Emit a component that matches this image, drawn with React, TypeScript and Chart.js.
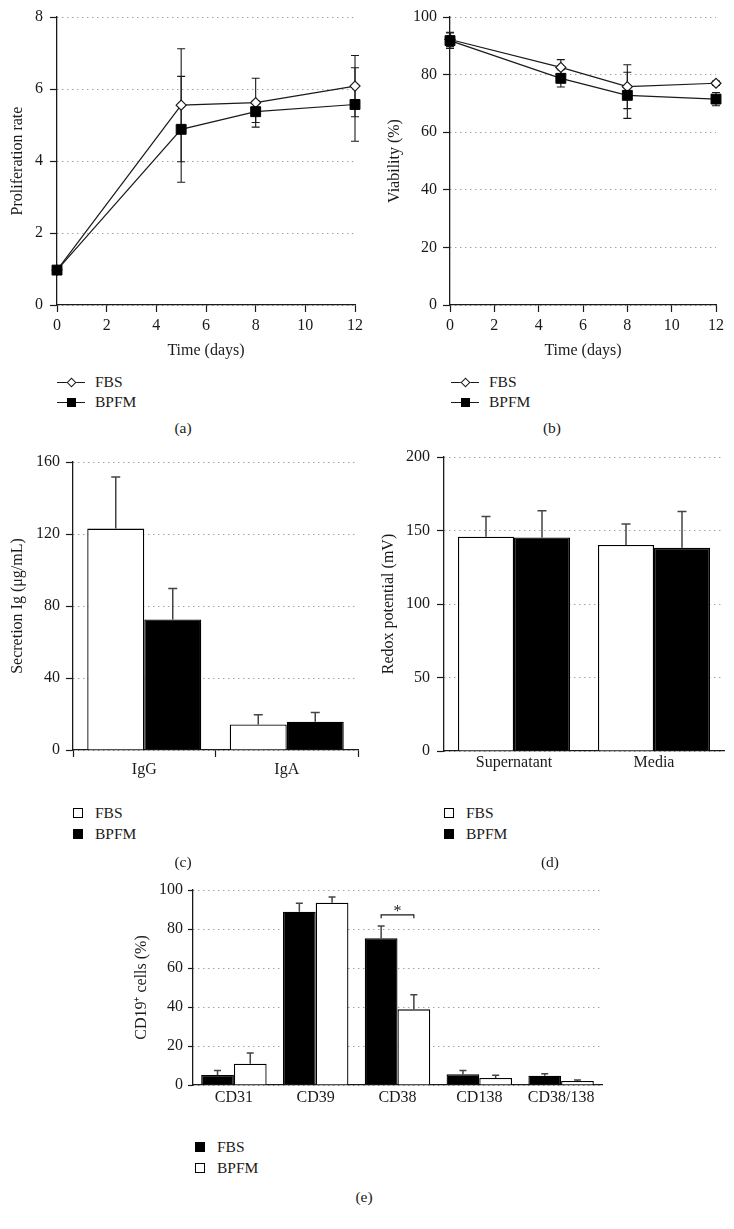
import React, { useEffect, useRef } from "react";
import { Chart, registerables } from "chart.js";
Chart.register(...registerables);

const FONT = "'Liberation Serif', 'Times New Roman', Times, serif";
const INK = "#1a1a1a";
const GRID = "#7a7a7a";

// ---------- (a) Proliferation rate ----------
const days = [0, 5, 8, 12];
const prolifFBS = [0.97, 5.55, 5.62, 6.08];
const prolifFBSErr = [0.05, 1.57, 0.68, 0.85];
const prolifBPFM = [0.97, 4.88, 5.37, 5.57];
const prolifBPFMErr = [0.05, 1.47, 0.3, 1.02];

// ---------- (b) Viability ----------
const viabFBS = [92.2, 82.5, 75.8, 77];
const viabFBSErr = [2.5, 2.7, 7.6, 0.8];
const viabBPFM = [91.8, 78.7, 72.8, 71.5];
const viabBPFMErr = [2.7, 3.0, 8.0, 2.3];

// ---------- (c) Secretion Ig ----------
const igCategories = ["IgG", "IgA"];
const igFBS = [123, 14.2];
const igFBSErr = [28.7, 5.4];
const igBPFM = [72.5, 15.7];
const igBPFMErr = [17.2, 5.2];

// ---------- (d) Redox potential ----------
const redoxCategories = ["Supernatant", "Media"];
const redoxFBS = [145.8, 140.2];
const redoxFBSErr = [13.7, 14.3];
const redoxBPFM = [145.2, 138.2];
const redoxBPFMErr = [18.3, 24.7];

// ---------- (e) CD19+ cells ----------
const cdCategories = ["CD31", "CD39", "CD38", "CD138", "CD38/138"];
const cdFBS = [5.1, 88.9, 75.2, 5.5, 4.8];
const cdFBSErr = [2.3, 4.3, 6.3, 1.9, 1.0];
const cdBPFM = [10.9, 93.5, 38.8, 3.6, 2.05];
const cdBPFMErr = [5.5, 2.9, 7.5, 1.4, 0.5];
const sigCategoryIndex = 2;
const sigLevel = 87.2;
const sigDrop = 1.7;
const sigLabel = "*";

const axisFont = { family: FONT, size: 16 };

const errorBarPlugin = {
  id: "errorBars",
  beforeDatasetsDraw(chart: any) {
    const ctx = chart.ctx;
    chart.data.datasets.forEach((ds: any, di: number) => {
      const errs: number[] | undefined = ds.errors;
      if (!errs) return;
      const meta = chart.getDatasetMeta(di);
      const yScale = chart.scales[meta.yAxisID];
      ctx.save();
      ctx.setLineDash([]);
      ctx.strokeStyle = ds.errorColor || INK;
      ctx.lineWidth = ds.errorWidth || 1.2;
      const cw = ds.errorCap ?? 4;
      meta.data.forEach((el: any, i: number) => {
        const v = meta.controller.getParsed(i).y;
        const e = errs[i];
        const x = el.x;
        const yTop = yScale.getPixelForValue(v + e);
        const yBot = ds.errorBoth ? yScale.getPixelForValue(v - e) : yScale.getPixelForValue(v);
        ctx.beginPath();
        ctx.moveTo(x, yTop);
        ctx.lineTo(x, yBot);
        ctx.moveTo(x - cw, yTop);
        ctx.lineTo(x + cw, yTop);
        if (ds.errorBoth) {
          ctx.moveTo(x - cw, yBot);
          ctx.lineTo(x + cw, yBot);
        }
        ctx.stroke();
      });
      ctx.restore();
    });
  },
};

const sigPlugin = {
  id: "sigBracket",
  afterDatasetsDraw(chart: any, _args: any, opts: any) {
    if (!opts || opts.index == null) return;
    const ctx = chart.ctx;
    const a = chart.getDatasetMeta(0).data[opts.index].x;
    const b = chart.getDatasetMeta(1).data[opts.index].x;
    const y = chart.scales.y.getPixelForValue(opts.level);
    const y2 = chart.scales.y.getPixelForValue(opts.level - opts.drop);
    ctx.save();
    ctx.strokeStyle = INK;
    ctx.lineWidth = 1.2;
    ctx.beginPath();
    ctx.moveTo(a, y2);
    ctx.lineTo(a, y);
    ctx.lineTo(b, y);
    ctx.lineTo(b, y2);
    ctx.stroke();
    ctx.fillStyle = INK;
    ctx.font = `16px ${FONT}`;
    ctx.textAlign = "center";
    ctx.textBaseline = "alphabetic";
    ctx.fillText(opts.label, (a + b) / 2, y + 1);
    ctx.restore();
  },
};

function yAxis(min: number, max: number, step: number, title: string, width: number, titlePad: number, tickLen = 7, tickPad = 7) {
  return {
    type: "linear",
    min,
    max,
    ticks: { stepSize: step, font: axisFont, color: INK, padding: tickPad },
    grid: { color: GRID, lineWidth: 1, tickLength: tickLen, tickColor: INK, tickWidth: 1.2, tickBorderDash: [] },
    border: { display: true, color: INK, width: 1.3, dash: [1, 4] },
    title: { display: true, text: title, font: axisFont, color: INK, padding: { top: titlePad, bottom: 0 } },
    afterFit: (s: any) => {
      s.width = width;
    },
  };
}

function lineX(height: number) {
  return {
    type: "linear",
    min: 0,
    max: 12,
    ticks: { stepSize: 2, font: axisFont, color: INK, padding: 4 },
    grid: { drawOnChartArea: false, color: INK, tickLength: 7, tickColor: INK, tickWidth: 1.2 },
    border: { display: true, color: INK, width: 1.3 },
    title: { display: true, text: "Time (days)", font: axisFont, color: INK, padding: { top: 0, bottom: 12 } },
    afterFit: (s: any) => {
      s.height = height;
    },
  };
}

function barX(height: number, ticks: boolean, pad: number) {
  return {
    type: "category",
    ticks: { font: axisFont, color: INK, padding: pad },
    grid: ticks
      ? { drawOnChartArea: false, color: INK, tickLength: 7, tickColor: INK, tickWidth: 1.2 }
      : { display: false, drawTicks: false, tickLength: 0 },
    border: { display: true, color: INK, width: 1.3 },
    afterFit: (s: any) => {
      s.height = height;
    },
  };
}

function lineDatasets(fbs: number[], fbsErr: number[], bpfm: number[], bpfmErr: number[]) {
  return [
    {
      label: "BPFM",
      data: days.map((d, i) => ({ x: d, y: bpfm[i] })),
      borderColor: INK,
      borderWidth: 1.2,
      backgroundColor: "#000",
      pointStyle: "rect",
      pointRadius: 7,
      pointBorderColor: "#000",
      pointBackgroundColor: "#000",
      pointBorderWidth: 1,
      tension: 0,
      clip: false,
      errors: bpfmErr,
      errorBoth: true,
      errorCap: 4,
      errorWidth: 1.1,
    },
    {
      label: "FBS",
      data: days.map((d, i) => ({ x: d, y: fbs[i] })),
      borderColor: INK,
      borderWidth: 1.2,
      backgroundColor: "#fff",
      pointStyle: "rectRot",
      pointRadius: 5,
      pointBorderColor: INK,
      pointBackgroundColor: "#fff",
      pointBorderWidth: 1.2,
      tension: 0,
      clip: false,
      errors: fbsErr,
      errorBoth: true,
      errorCap: 4,
      errorWidth: 1.1,
    },
  ];
}

function barDataset(label: string, data: number[], errs: number[], fill: string, cap: number) {
  return {
    label,
    data,
    backgroundColor: fill,
    borderColor: "#000",
    borderWidth: 1.3,
    categoryPercentage: 0.8,
    barPercentage: 1.0,
    errors: errs,
    errorBoth: false,
    errorCap: cap,
    errorColor: "#444",
    errorWidth: 1.5,
  };
}

const basePlugins = { legend: { display: false }, tooltip: { enabled: false } };

const configA = () => ({
  type: "line",
  data: { datasets: lineDatasets(prolifFBS, prolifFBSErr, prolifBPFM, prolifBPFMErr) },
  options: {
    responsive: false,
    animation: false,
    layout: { padding: { top: 17, right: 9, left: 0, bottom: 0 } },
    plugins: basePlugins,
    scales: { x: lineX(67), y: yAxis(0, 8, 2, "Proliferation rate", 57, 8, 7, 7) },
  },
  plugins: [errorBarPlugin],
});

const configB = () => ({
  type: "line",
  data: { datasets: lineDatasets(viabFBS, viabFBSErr, viabBPFM, viabBPFMErr) },
  options: {
    responsive: false,
    animation: false,
    layout: { padding: { top: 17, right: 18, left: 0, bottom: 0 } },
    plugins: basePlugins,
    scales: { x: lineX(67), y: yAxis(0, 100, 20, "Viability (%)", 83, 18, 7, 6) },
  },
  plugins: [errorBarPlugin],
});

const configC = () => ({
  type: "bar",
  data: {
    labels: igCategories,
    datasets: [barDataset("FBS", igFBS, igFBSErr, "#fff", 4.5), barDataset("BPFM", igBPFM, igBPFMErr, "#000", 4.5)],
  },
  options: {
    responsive: false,
    animation: false,
    layout: { padding: { top: 22, right: 9, left: 0, bottom: 0 } },
    plugins: basePlugins,
    scales: { x: barX(42, true, 3), y: yAxis(0, 160, 40, "Secretion Ig (μg/mL)", 73, 8, 7, 6) },
  },
  plugins: [errorBarPlugin],
});

const configD = () => ({
  type: "bar",
  data: {
    labels: redoxCategories,
    datasets: [
      barDataset("FBS", redoxFBS, redoxFBSErr, "#fff", 4.5),
      barDataset("BPFM", redoxBPFM, redoxBPFMErr, "#000", 4.5),
    ],
  },
  options: {
    responsive: false,
    animation: false,
    layout: { padding: { top: 17, right: 10, left: 0, bottom: 0 } },
    plugins: basePlugins,
    scales: { x: barX(41, false, 2), y: yAxis(0, 200, 50, "Redox potential (mV)", 77, 12, 7, 7) },
  },
  plugins: [errorBarPlugin],
});

const configE = () => ({
  type: "bar",
  data: {
    labels: cdCategories,
    datasets: [barDataset("FBS", cdFBS, cdFBSErr, "#000", 3.5), barDataset("BPFM", cdBPFM, cdBPFMErr, "#fff", 3.5)],
  },
  options: {
    responsive: false,
    animation: false,
    layout: { padding: { top: 30, right: 18, left: 0, bottom: 0 } },
    plugins: {
      ...basePlugins,
      sigBracket: { index: sigCategoryIndex, level: sigLevel, drop: sigDrop, label: sigLabel },
    },
    scales: { x: barX(25, false, 3), y: yAxis(0, 100, 20, "CD19\u207A cells (%)", 73, 12, 5, 5) },
  },
  plugins: [errorBarPlugin, sigPlugin],
});

function ChartBox({ left, top, width, height, config }: any) {
  const ref = useRef<HTMLCanvasElement>(null);
  useEffect(() => {
    const chart = new Chart(ref.current as HTMLCanvasElement, config() as any);
    return () => chart.destroy();
  }, []);
  return (
    <canvas
      ref={ref}
      width={width}
      height={height}
      style={{ position: "absolute", left, top, width, height }}
    />
  );
}

const textStyle: React.CSSProperties = {
  position: "absolute",
  fontFamily: FONT,
  fontSize: 15.5,
  lineHeight: "18px",
  color: INK,
  whiteSpace: "nowrap",
};

function LineLegendItem({ x, y, label, marker }: any) {
  return (
    <>
      <div style={{ position: "absolute", left: x, top: y - 0.5, width: 28, height: 1.2, background: INK }} />
      {marker === "diamond" ? (
        <div
          style={{
            position: "absolute",
            left: x + 14 - 3.5,
            top: y - 3.5,
            width: 5,
            height: 5,
            background: "#fff",
            border: `1.2px solid ${INK}`,
            transform: "rotate(45deg)",
          }}
        />
      ) : (
        <div style={{ position: "absolute", left: x + 14 - 4.5, top: y - 4.5, width: 9, height: 9, background: "#000" }} />
      )}
      <div style={{ ...textStyle, left: x + 38, top: y - 9 }}>{label}</div>
    </>
  );
}

function BoxLegendItem({ x, y, label, fill }: any) {
  return (
    <>
      <div
        style={{
          position: "absolute",
          left: x,
          top: y - 5,
          width: 8,
          height: 8,
          background: fill,
          border: `1.2px solid #000`,
        }}
      />
      <div style={{ ...textStyle, left: x + 22, top: y - 9 }}>{label}</div>
    </>
  );
}

function PanelLabel({ x, y, text }: any) {
  return <div style={{ ...textStyle, left: x - 20, width: 40, textAlign: "center", top: y - 9 }}>{text}</div>;
}

export default function App() {
  return (
    <div style={{ position: "absolute", left: 0, top: 0, width: 734, height: 1229, background: "#fff" }}>
      <ChartBox left={0} top={0} width={367} height={372} config={configA} />
      <ChartBox left={367} top={0} width={367} height={372} config={configB} />
      <ChartBox left={0} top={440} width={367} height={352} config={configC} />
      <ChartBox left={367} top={440} width={367} height={352} config={configD} />
      <ChartBox left={120} top={860} width={500} height={250} config={configE} />

      <LineLegendItem x={57} y={382} label="FBS" marker="diamond" />
      <LineLegendItem x={57} y={402} label="BPFM" marker="square" />
      <LineLegendItem x={451} y={382} label="FBS" marker="diamond" />
      <LineLegendItem x={451} y={402} label="BPFM" marker="square" />

      <BoxLegendItem x={73} y={813} label="FBS" fill="#fff" />
      <BoxLegendItem x={73} y={834} label="BPFM" fill="#000" />
      <BoxLegendItem x={444} y={813} label="FBS" fill="#fff" />
      <BoxLegendItem x={444} y={834} label="BPFM" fill="#000" />
      <BoxLegendItem x={195} y={1147} label="FBS" fill="#000" />
      <BoxLegendItem x={195} y={1168} label="BPFM" fill="#fff" />

      <PanelLabel x={183} y={428} text="(a)" />
      <PanelLabel x={552} y={428} text="(b)" />
      <PanelLabel x={183} y={862} text="(c)" />
      <PanelLabel x={550} y={862} text="(d)" />
      <PanelLabel x={364} y={1197} text="(e)" />
    </div>
  );
}
